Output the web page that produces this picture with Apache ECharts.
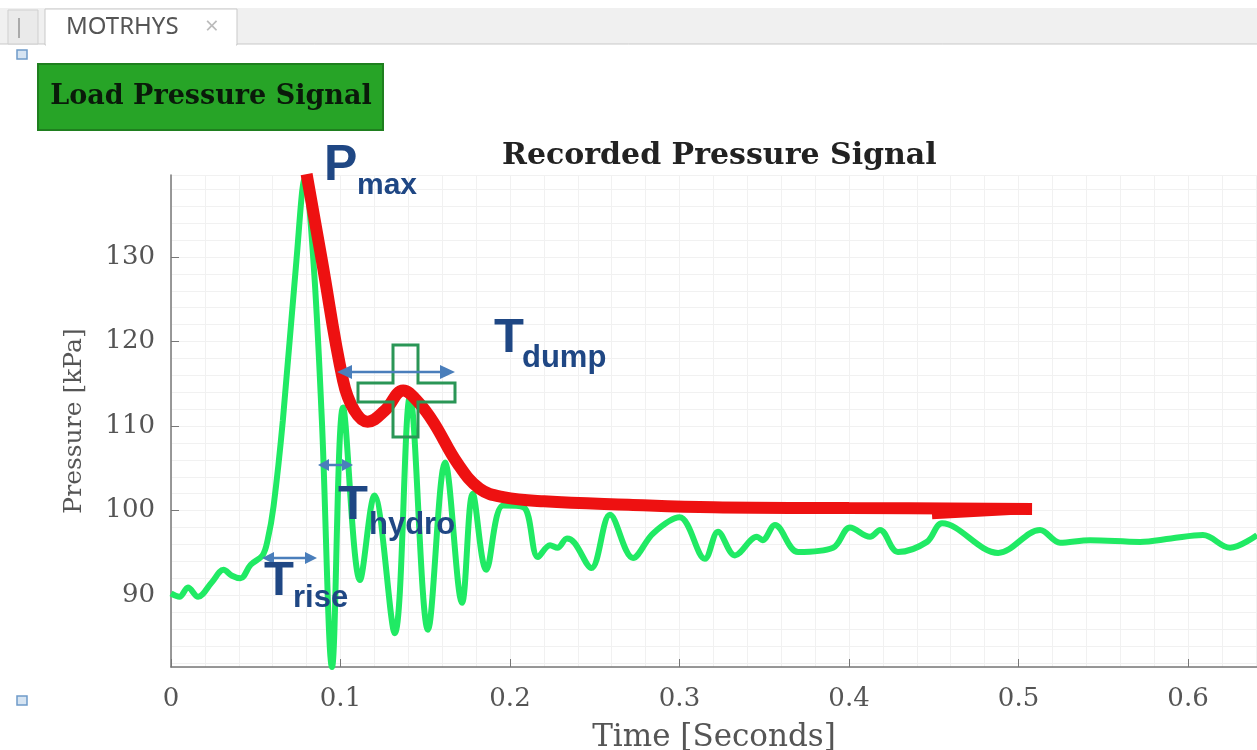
<!DOCTYPE html>
<html>
<head>
<meta charset="utf-8">
<title>Recorded Pressure Signal</title>
<script src="https://cdn.jsdelivr.net/npm/echarts@6/dist/echarts.min.js"></script>
<style>
  html, body { margin: 0; padding: 0; background: #fff; }
  #main { width: 1257px; height: 750px; }
</style>
</head>
<body>
<div id="main"></div>
<script>
// recorded signal (green)
const sigTime = [0.000, 0.005, 0.010, 0.016, 0.024, 0.031, 0.036, 0.041, 0.047, 0.054, 0.057, 0.0605,
  0.066, 0.074, 0.079, 0.084, 0.089, 0.095, 0.1015, 0.1115, 0.120, 0.132, 0.141, 0.1516, 0.1617, 0.1717,
  0.178, 0.186, 0.196, 0.208, 0.2165, 0.2236, 0.228, 0.2336, 0.238, 0.248, 0.259, 0.2726, 0.2844, 0.300,
  0.315, 0.3227, 0.3327, 0.3457, 0.349, 0.3563, 0.370, 0.3906, 0.4006, 0.4124, 0.4183, 0.4289, 0.446,
  0.4549, 0.488, 0.5127, 0.5245, 0.5422, 0.5717, 0.590, 0.6088, 0.6248, 0.6407];
const sigPress = [90.2, 89.8, 90.9, 89.8, 91.5, 93.0, 92.3, 92.0, 93.6, 94.7, 96.5, 100.5,
  110.7, 129.6, 139.3, 129.6, 110.7, 81.5, 112.2, 91.8, 101.8, 85.5, 113.5, 85.9, 105.7, 89.1,
  102.0, 93.0, 100.6, 100.4, 94.5, 95.9, 95.6, 96.7, 96.2, 93.2, 99.5, 94.4, 97.3, 99.2,
  94.3, 97.5, 94.7, 96.9, 96.5, 98.3, 95.1, 95.6, 98.0, 96.9, 97.7, 95.1, 96.3,
  98.5, 95.0, 97.7, 96.2, 96.5, 96.3, 96.7, 97.1, 95.6, 97.1];

// fitted envelope (red)
const fitTime = [0.080, 0.089, 0.1015, 0.108, 0.116, 0.126, 0.137, 0.146, 0.155, 0.169, 0.182, 0.196, 0.220, 0.270, 0.320, 0.400, 0.508];
const fitPress = [139.8, 129.6, 115.4, 111.9, 110.5, 111.8, 114.2, 112.8, 110.4, 105.6, 102.6, 101.6, 101.1, 100.7, 100.4, 100.3, 100.2];
const tailTime = [0.449, 0.506];
const tailPress = [99.4, 100.0];

const xMin = 0, xMax = 0.6407;
const yMin = 81.5, yMax = 139.7;

const navy = '#1f4784';
const blue = '#4a7ebb';
const crossGreen = '#2a9656';

function zip(a, b) {
  return a.map((v, i) => [v, b[i]]);
}

function arrow(x1, x2, y, head, half) {
  return [
    { type: 'line', z: 100, shape: { x1: x1 + head - 2, y1: y, x2: x2 - head + 2, y2: y }, style: { stroke: blue, lineWidth: 2.5 } },
    { type: 'polygon', z: 100, shape: { points: [[x1, y], [x1 + head, y - half], [x1 + head, y + half]] }, style: { fill: blue } },
    { type: 'polygon', z: 100, shape: { points: [[x2, y], [x2 - head, y - half], [x2 - head, y + half]] }, style: { fill: blue } }
  ];
}

function label(x, y, main, sub, mainSize, subSize, subX, subY) {
  return [
    { type: 'text', z: 100, style: { x: x, y: y, text: main, font: 'bold ' + mainSize + 'px "Liberation Sans", Arial, sans-serif', fill: navy, textVerticalAlign: 'middle' } },
    { type: 'text', z: 100, style: { x: subX, y: subY, text: sub, font: 'bold ' + subSize + 'px "Liberation Sans", Arial, sans-serif', fill: navy, textVerticalAlign: 'middle' } }
  ];
}

let myChart = echarts.init(document.getElementById('main'));

let graphics = [
  // tab strip
  { type: 'rect', shape: { x: 0, y: 8, width: 1257, height: 36 }, style: { fill: '#f0f0f0' } },
  { type: 'line', shape: { x1: 0, y1: 44, x2: 1257, y2: 44 }, style: { stroke: '#c9c9c9', lineWidth: 1 } },
  { type: 'rect', shape: { x: 8, y: 10, width: 30, height: 34 }, style: { fill: '#eaeaea', stroke: '#cfcfcf', lineWidth: 1 } },
  { type: 'line', shape: { x1: 19, y1: 18, x2: 19, y2: 38 }, style: { stroke: '#aaa', lineWidth: 2 } },
  { type: 'rect', shape: { x: 45, y: 9, width: 192, height: 36 }, style: { fill: '#fff', stroke: '#c9c9c9', lineWidth: 1 } },
  { type: 'rect', shape: { x: 46, y: 43, width: 190, height: 3 }, style: { fill: '#fff' } },
  { type: 'text', style: { x: 66, y: 27, text: 'MOTRHYS', font: '24px "Noto Sans", sans-serif', fill: '#555', textVerticalAlign: 'middle' } },
  { type: 'text', style: { x: 205, y: 27, text: '×', font: '24px "Noto Sans", sans-serif', fill: '#bbb', textVerticalAlign: 'middle' } },
  // little handles
  { type: 'rect', shape: { x: 17, y: 50, width: 10, height: 9 }, style: { fill: '#d6e4f2', stroke: '#6f9bc9', lineWidth: 1.5 } },
  { type: 'rect', shape: { x: 17, y: 696, width: 10, height: 9 }, style: { fill: '#d6e4f2', stroke: '#6f9bc9', lineWidth: 1.5 } },
  // button
  { type: 'rect', shape: { x: 38, y: 64, width: 345, height: 66 }, style: { fill: '#27a427', stroke: '#1f7f1f', lineWidth: 2 } },
  { type: 'text', style: { x: 211, y: 97, text: 'Load Pressure Signal', font: 'bold 27px "DejaVu Serif", serif', fill: '#0a1a0a', textAlign: 'center', textVerticalAlign: 'middle' } },
  // cross marker
  { type: 'polygon', z: 100, shape: { points: [[393, 345], [418, 345], [418, 383], [455, 383], [455, 402], [418, 402], [418, 437], [393, 437], [393, 402], [358, 402], [358, 383], [393, 383]] },
    style: { fill: 'none', stroke: crossGreen, lineWidth: 3 } }
];
graphics = graphics
  .concat(arrow(337, 455, 372, 15, 7))
  .concat(arrow(318, 353, 465, 11, 6))
  .concat(arrow(262, 317, 558, 12, 6))
  .concat(label(324, 166, 'P', 'max', 50, 30, 357, 186))
  .concat(label(494, 338, 'T', 'dump', 49, 31, 522, 358))
  .concat(label(338, 505, 'T', 'hydro', 49, 31, 369, 525))
  .concat(label(264, 581, 'T', 'rise', 49, 31, 293, 598));

myChart.setOption({
  animation: false,
  backgroundColor: '#fff',
  title: {
    text: 'Recorded Pressure Signal',
    left: 497,
    top: 136,
    textStyle: { fontFamily: 'DejaVu Serif', fontWeight: 'bold', fontSize: 30, color: '#222' }
  },
  grid: { left: 171, right: 0, top: 175, bottom: 83, containLabel: false, outerBoundsMode: 'none' },
  xAxis: [{
    type: 'value',
    min: xMin,
    max: xMax,
    interval: 0.1,
    name: 'Time [Seconds]',
    nameLocation: 'middle',
    nameGap: 55,
    nameTextStyle: { fontFamily: 'DejaVu Serif', fontSize: 31, color: '#555' },
    axisLine: { lineStyle: { color: '#777', width: 1.5 } },
    axisTick: { inside: true, length: 8, lineStyle: { color: '#777' } },
    axisLabel: { margin: 19, fontFamily: 'DejaVu Serif', fontSize: 26, color: '#555', showMaxLabel: false },
    splitLine: { lineStyle: { color: '#e2e2e2', width: 1 } }
  }, {
    // minor grid
    type: 'value',
    min: xMin,
    max: xMax,
    interval: 0.02,
    position: 'bottom',
    axisLine: { show: false },
    axisTick: { show: false },
    axisLabel: { show: false },
    splitLine: { lineStyle: { color: '#f1f1f1', width: 1 } }
  }],
  yAxis: [{
    type: 'value',
    min: yMin,
    max: yMax,
    splitNumber: 5,
    name: 'Pressure [kPa]',
    nameLocation: 'middle',
    nameGap: 84,
    nameTextStyle: { fontFamily: 'DejaVu Serif', fontSize: 25, color: '#555' },
    axisLine: { show: true, lineStyle: { color: '#777', width: 1.5 } },
    axisTick: { show: true, inside: true, length: 8, lineStyle: { color: '#777' } },
    axisLabel: { margin: 16, fontFamily: 'DejaVu Serif', fontSize: 26, color: '#555', showMinLabel: false, showMaxLabel: false },
    splitLine: { lineStyle: { color: '#e2e2e2', width: 1 } }
  }, {
    type: 'value',
    min: yMin,
    max: yMax,
    splitNumber: 29,
    position: 'left',
    axisLine: { show: false },
    axisTick: { show: false },
    axisLabel: { show: false },
    splitLine: { lineStyle: { color: '#f1f1f1', width: 1 } }
  }],
  series: [{
    name: 'Recorded',
    type: 'line',
    data: zip(sigTime, sigPress),
    symbol: 'none',
    smooth: 0.35,
    lineStyle: { color: '#20ea64', width: 6 },
    z: 3
  }, {
    name: 'Fit',
    type: 'line',
    data: zip(fitTime, fitPress),
    symbol: 'none',
    smooth: 0.4,
    lineStyle: { color: '#ee1111', width: 12 },
    z: 4
  }, {
    name: 'Fit tail',
    type: 'line',
    data: zip(tailTime, tailPress),
    symbol: 'none',
    lineStyle: { color: '#ee1111', width: 7 },
    z: 4
  }],
  graphic: graphics
})
</script>
</body>
</html>
